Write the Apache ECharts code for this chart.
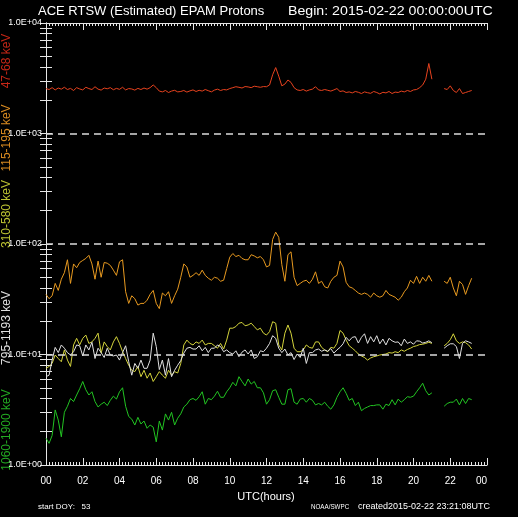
<!DOCTYPE html>
<html><head><meta charset="utf-8">
<script src="https://cdn.jsdelivr.net/npm/echarts@6/dist/echarts.min.js"></script>
<style>html,body{margin:0;padding:0;background:#000;}#c{width:518px;height:517px;}</style>
</head><body><div id="c"></div><script>
// 10-minute samples starting 2015-02-22 00:00 UTC (null = data gap)
const red = [2550,2500,2600,2480,2580,2520,2620,2500,2560,2450,2600,2530,2480,2620,2550,2500,2650,2520,2470,2580,2540,2600,2490,2560,2510,2620,2480,2550,2530,2470,2560,2500,2580,2520,
 2600,2750,2600,
 2420,2380,2450,2350,2420,2460,2380,2400,2450,2370,2430,2480,2400,2460,2420,2500,2440,2380,2470,2520,2450,2500,2480,2550,
 2600,2650,2620,2580,2660,2640,2600,2680,2650,2620,2660,
 2650,2750,3400,3950,3300,2700,2800,3050,2900,2600,2480,
 2450,2500,2420,2480,2520,2650,2480,2450,2500,2460,2420,2480,2550,
 2400,2430,2350,2380,2330,2400,2360,2300,2380,2340,2310,2400,2350,2280,2360,2330,2400,2300,2370,2350,2420,2380,2450,2400,2480,2500,
 2600,2750,3100,4300,3100,
 null,null,null,
 2550,2500,2700,2450,2350,2550,2300,2350,2400,2450];
const orange = [35,32,34,44,38,48,55,72,44,66,61,68,71,74,79,66,48,70,50,68,67,64,58,52,69,72,37,29,34,32,28,29,29,31,35,38,29,26,36,34,37,29,34,39,50,66,62,50,52,55,52,58,52,49,47,50,49,46,47,60,76,82,77,79,74,72,72,80,78,75,77,72,
 62,64,110,128,115,65,46,80,85,50,42,44,46,47,44,48,56,44,46,41,40,46,50,52,70,62,45,41,40,38,36,35,36,35,33,36,34,33,34,38,35,34,33,31,33,37,40,47,44,51,44,50,46,52,46,
 null,null,null,
 46,44,50,40,34,46,43,35,42,49];
const yellow = [7.5,7.8,8.3,9.9,9.2,8.6,11.0,8.9,7.8,12.2,14.0,12.2,14.0,15.0,12.6,13.0,14.0,15.6,10.3,13.0,11.8,11.0,13.0,14.5,12.6,10.6,9.2,8.0,7.2,7.0,7.8,6.3,7.2,6.1,6.8,5.7,6.3,7.0,6.5,6.1,7.2,6.5,7.0,6.8,8.3,12.2,13.5,12.6,12.2,13.0,12.6,13.5,12.2,12.6,12.6,12.0,11.4,12.6,11.2,13.5,17.3,17.3,17.9,19.2,19.5,18.2,18.5,19.2,17.9,16.7,17.3,15.6,
 15.0,16.1,19.8,19.2,12.2,11.0,15.6,18.5,15.6,11.4,10.6,10.6,11.0,12.2,11.6,11.4,13.0,13.0,11.6,11.0,10.6,11.6,11.4,12.6,16.5,15.6,13.5,12.0,11.4,10.8,10.1,9.7,9.4,8.9,9.3,9.55,9.7,9.9,10.0,10.1,10.4,10.3,10.6,10.4,11.0,10.7,11.1,11.4,11.8,12.0,12.3,12.4,12.6,12.9,12.6,
 null,null,null,
 12.0,12.6,13.6,15.4,13.3,12.6,13.0,12.8,12.2,11.2];
const white = [6.3,6.5,8.9,11.6,10.4,12.2,11.4,10.4,9.9,10.6,12.2,12.0,9.7,12.2,11.0,12.9,9.2,11.4,10.4,9.4,11.4,9.9,9.7,9.9,8.9,10.4,12.0,8.6,6.5,8.3,7.5,8.9,7.5,7.5,8.9,15.6,11.8,7.3,8.9,6.5,9.2,6.3,7.2,8.0,8.8,10.3,11.4,11.6,11.2,11.2,12.0,10.8,11.6,10.4,11.4,11.4,12.2,11.8,10.6,11.0,10.4,10.1,10.8,9.55,10.5,11.0,10.1,11.0,9.2,9.55,10.8,10.6,
 11.4,12.6,14.8,14.0,11.4,10.4,11.2,9.9,10.4,9.0,10.1,9.4,11.4,8.3,10.4,10.4,11.0,11.2,10.7,11.0,10.7,11.3,10.3,11.0,11.6,12.5,14.3,13.3,14.3,14.5,12.7,14.3,15.4,12.6,14.5,13.0,14.8,12.5,13.8,12.2,14.0,13.3,12.9,13.0,12.0,13.8,12.6,13.0,12.4,13.3,13.2,12.7,12.9,13.3,12.8,
 null,null,null,
 11.4,12.0,12.5,12.5,11.8,9.2,12.6,13.3,13.0,12.6];
const green = [1.75,1.57,1.85,3.15,2.55,1.8,3.0,3.4,4.0,3.75,4.3,4.9,5.7,4.8,4.3,4.6,3.75,3.35,3.55,3.7,3.45,3.85,4.2,3.95,4.6,5.0,3.4,2.75,2.6,2.3,2.7,2.35,2.5,2.15,2.3,2.2,1.62,2.5,2.07,2.9,2.55,3.0,2.3,2.65,2.9,3.35,3.55,3.9,4.0,3.85,4.15,4.6,3.55,4.0,3.9,4.2,4.65,4.1,4.1,4.6,5.0,5.6,5.2,6.3,5.7,5.2,6.0,5.4,5.7,5.0,5.0,4.5,
 3.55,3.9,4.7,4.8,4.1,3.55,3.55,4.8,4.9,3.7,3.55,3.95,4.0,3.7,4.0,3.85,3.5,3.6,3.5,3.7,3.4,3.2,3.5,4.1,4.6,5.0,4.45,3.85,4.0,3.45,3.7,3.1,3.25,3.35,3.45,3.45,3.5,3.5,3.2,3.55,3.45,3.9,3.5,3.95,3.7,3.9,4.15,4.1,4.2,4.6,5.0,5.5,4.7,4.3,4.5,
 null,null,null,
 3.4,3.6,3.7,3.7,3.95,3.5,4.0,3.6,4.0,3.9];

const seriesNames = ['47-68 keV','115-195 keV','310-580 keV','795-1193 keV','1060-1900 keV'];
const xTickLabels = ['00','02','04','06','08','10','12','14','16','18','20','22','00'];
const yTickLabels = ['1.0E+00','1.0E+01','1.0E+02','1.0E+03','1.0E+04'];
const yTickValues = [1,2,3,4,5,6,7,8,9,10,20,30,40,50,60,70,80,90,100,200,300,400,500,600,700,800,900,1000,2000,3000,4000,5000,6000,7000,8000,9000,10000];
const dashedLevels = [10, 100, 1000];

const hours = red.map((_, i) => i / 6);
const pairs = arr => arr.map((v, i) => [hours[i], v]);

const FONT = "'Liberation Sans', 'DejaVu Sans', sans-serif";
const FR = '#e6e6e6';
const lineCols = ['#e8421e', '#e89a20', '#d4d43c', '#e0e0e0', '#22c422'];
const labelCols = ['#c42616', '#d88a20', '#bcc232', '#e0e0e0', '#22aa22'];

function xAx(pos) {
  return {
    type: 'value', min: 0, max: 24, interval: 2, position: pos,
    axisLine: { show: true, lineStyle: { color: FR, width: 1 } },
    axisTick: { show: true, inside: true, length: 7, lineStyle: { color: FR } },
    minorTick: { show: true, splitNumber: 12, length: 3, lineStyle: { color: FR } },
    axisLabel: pos === 'bottom' ? {
      show: true, color: '#fff', fontSize: 10, fontFamily: FONT, margin: 11,
      alignMaxLabel: 'right',
      formatter: v => xTickLabels[Math.round(v / 2)]
    } : { show: false },
    splitLine: { show: false }
  };
}
function yAx(pos) {
  return {
    type: 'log', logBase: 10, min: 1, max: 10000, position: pos,
    axisLine: { show: true, lineStyle: { color: FR, width: 1 } },
    axisTick: { show: true, inside: true, length: 6, customValues: yTickValues, lineStyle: { color: FR } },
    axisLabel: pos === 'left' ? {
      show: true, color: '#fff', fontSize: 9, fontFamily: FONT, margin: 4,
      formatter: v => yTickLabels[Math.round(Math.log10(v))]
    } : { show: false },
    splitLine: { show: false }
  };
}

const dataSets = [red, orange, yellow, white, green];
const order = [4, 2, 3, 1, 0];
const series = order.map((i, j) => {
  const s = {
    name: seriesNames[i], type: 'line', xAxisIndex: 0, yAxisIndex: 0,
    data: pairs(dataSets[i]), showSymbol: false, connectNulls: false,
    lineStyle: { color: lineCols[i], width: 1 }, silent: true, z: 3
  };
  if (j === 0) {
    s.markLine = {
      silent: true, symbol: ['none', 'none'], label: { show: false }, animation: false,
      lineStyle: { color: '#dcdcdc', type: [7, 5], width: 1.5 },
      data: dashedLevels.map(v => ({ yAxis: v }))
    };
  }
  return s;
});

const labelCenters = [61, 138, 214, 328, 430];
const graphics = [
  { type: 'text', x: 38, y: 11, style: { text: 'ACE RTSW (Estimated) EPAM Protons', fill: '#fff', font: '13px ' + FONT, textVerticalAlign: 'middle' } },
  { type: 'text', x: 288, y: 11, scaleX: 1.09, style: { text: 'Begin: 2015-02-22 00:00:00UTC', fill: '#fff', font: '13px ' + FONT, textVerticalAlign: 'middle' } },
  { type: 'text', x: 266, y: 497, style: { text: 'UTC(hours)', fill: '#fff', font: '11px ' + FONT, textAlign: 'center', textVerticalAlign: 'middle' } },
  { type: 'text', x: 38, y: 507, style: { text: 'start DOY:   53', fill: '#fff', font: '8px ' + FONT, textVerticalAlign: 'middle' } },
  { type: 'text', x: 311, y: 507, scaleX: 0.78, style: { text: 'NOAA/SWPC', fill: '#fff', font: '8px ' + FONT, textVerticalAlign: 'middle' } },
  { type: 'text', x: 358, y: 507, style: { text: 'created2015-02-22 23:21:08UTC', fill: '#fff', font: '9px ' + FONT, textVerticalAlign: 'middle' } }
];
seriesNames.forEach((n, i) => {
  graphics.push({ type: 'text', x: 7, y: labelCenters[i], rotation: Math.PI / 2,
    style: { text: n, fill: labelCols[i], font: '12px ' + FONT, textAlign: 'center', textVerticalAlign: 'middle' } });
});

const chart = echarts.init(document.getElementById('c'), null, { renderer: 'canvas' });
chart.setOption({
  backgroundColor: '#000',
  animation: false,
  grid: { left: 46, right: 31, top: 23, bottom: 52 },
  xAxis: [xAx('bottom'), xAx('top')],
  yAxis: [yAx('left'), yAx('right')],
  series: series,
  graphic: graphics
});
</script></body></html>
